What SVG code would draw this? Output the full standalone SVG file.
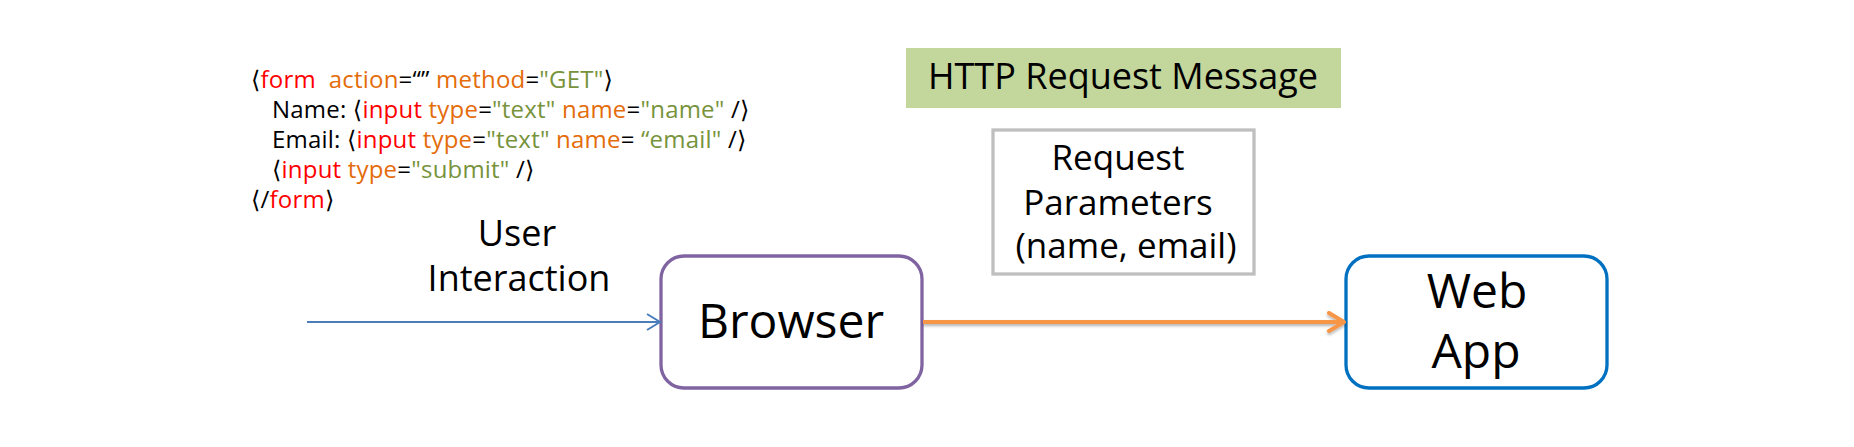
<svg xmlns="http://www.w3.org/2000/svg" width="1854" height="447" viewBox="0 0 1854 447">
  <style>
    text { font-family: "Open Sans", "Noto Sans", "DejaVu Sans", sans-serif; fill: #000; }
    .code { font-size: 24px; letter-spacing: 0.2px; }
    .k { fill: #ff0000; }
    .a { fill: #e46c0a; }
    .v { fill: #77933c; }
    .lbl { font-size: 36px; }
    .rp { font-size: 35px; }
    .big { font-size: 48px; }
    .node { fill: #ffffff; stroke-width: 3.3; }
  </style>
  <defs>
    <marker id="arrBlue" markerWidth="16" markerHeight="18" refX="14" refY="9" orient="auto" markerUnits="userSpaceOnUse">
      <path d="M1,1 L14,9 L1,17" fill="none" stroke="#4a7ebb" stroke-width="2"/>
    </marker>
    <marker id="arrOrange" markerWidth="20" markerHeight="22" refX="17" refY="11" orient="auto" markerUnits="userSpaceOnUse">
      <path d="M2,2 L17,11 L2,20" fill="none" stroke="#f79646" stroke-width="4" stroke-linecap="round" stroke-linejoin="round"/>
    </marker>
    <filter id="shadow" filterUnits="userSpaceOnUse" x="900" y="300" width="470" height="45">
      <feDropShadow dx="0" dy="2" stdDeviation="1.5" flood-color="#000" flood-opacity="0.3"/>
    </filter>
  </defs>

  <g id="code">
    <text class="code" x="251" y="88">⟨<tspan class="k">form</tspan>&#160; <tspan class="a">action</tspan>=“” <tspan class="a">method</tspan>=<tspan class="v">"GET"</tspan>⟩</text>
    <text class="code" x="272" y="118">Name: ⟨<tspan class="k">input</tspan> <tspan class="a">type</tspan>=<tspan class="v">"text"</tspan> <tspan class="a">name</tspan>=<tspan class="v">"name"</tspan> /⟩</text>
    <text class="code" x="272" y="148">Email: ⟨<tspan class="k">input</tspan> <tspan class="a">type</tspan>=<tspan class="v">"text"</tspan> <tspan class="a">name</tspan>= <tspan class="v">“email"</tspan> /⟩</text>
    <text class="code" x="272" y="178">⟨<tspan class="k">input</tspan> <tspan class="a">type</tspan>=<tspan class="v">"submit"</tspan> /⟩</text>
    <text class="code" x="251" y="208">⟨/<tspan class="k">form</tspan>⟩</text>
  </g>

  <g id="user-interaction">
    <text class="lbl" x="517" y="246" text-anchor="middle">User</text>
    <text class="lbl" x="519" y="291" text-anchor="middle">Interaction</text>
  </g>

  <g id="http-request-message">
    <rect x="906" y="48" width="435" height="60" fill="#c3d69b"/>
    <text class="lbl" x="1123" y="89" text-anchor="middle">HTTP Request Message</text>
  </g>

  <g id="request-parameters">
    <rect x="993" y="130" width="261" height="144" fill="#ffffff" stroke="#bfbfbf" stroke-width="3.3"/>
    <text class="rp" x="1118" y="170" text-anchor="middle">Request</text>
    <text class="rp" x="1118" y="215" text-anchor="middle">Parameters</text>
    <text class="rp" x="1126" y="258" text-anchor="middle">(name, email)</text>
  </g>

  <g id="browser">
    <rect class="node" x="661" y="256" width="261" height="132" rx="23" ry="23" stroke="#8064a2"/>
    <text class="big" x="791" y="338" text-anchor="middle">Browser</text>
  </g>

  <g id="web-app">
    <rect class="node" x="1346" y="256" width="261" height="132" rx="23" ry="23" stroke="#0070c0"/>
    <text class="big" x="1477" y="308" text-anchor="middle">Web</text>
    <text class="big" x="1476" y="368" text-anchor="middle">App</text>
  </g>

  <g id="connectors">
    <line x1="307" y1="322" x2="660" y2="322" stroke="#4a7ebb" stroke-width="2" marker-end="url(#arrBlue)"/>
    <g filter="url(#shadow)">
      <line x1="923" y1="322" x2="1344" y2="322" stroke="#f79646" stroke-width="4" marker-end="url(#arrOrange)"/>
    </g>
  </g>
</svg>
